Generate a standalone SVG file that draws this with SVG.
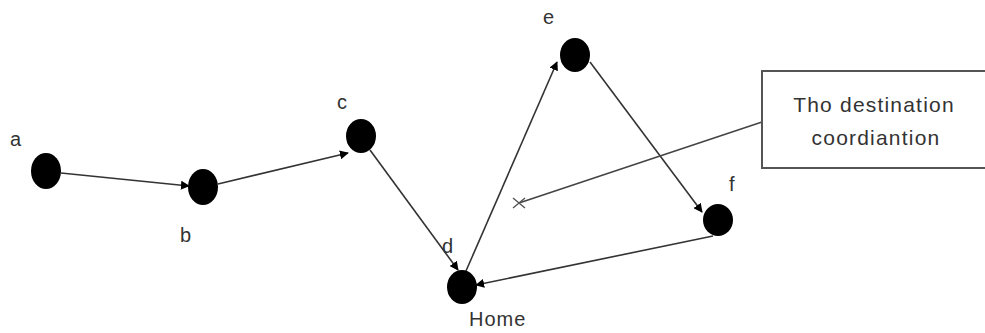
<svg xmlns="http://www.w3.org/2000/svg" width="985" height="333" viewBox="0 0 985 333">
  <style>
    .node { fill: #000; }
    .edge { stroke: #333; stroke-width: 1.6; fill: none; marker-end: url(#arrow); }
    .lbl { font-family: "Liberation Sans", Arial, sans-serif; font-size: 20px; fill: #333; }
    .note { font-family: "Liberation Sans", Arial, sans-serif; font-size: 21px; letter-spacing: 1.2px; fill: #333; text-anchor: middle; }
  </style>
  <defs>
    <marker id="arrow" viewBox="0 0 10 10" refX="9" refY="5" markerWidth="9" markerHeight="9" markerUnits="userSpaceOnUse" orient="auto">
      <path d="M0,0 L10,5 L0,10 z" fill="#000"/>
    </marker>
  </defs>
  <rect width="985" height="333" fill="#fff"/>

  <!-- connectors -->
  <g id="connectors">
    <line class="edge" x1="61" y1="173" x2="189" y2="186"/>
    <line class="edge" x1="218" y1="184" x2="348" y2="153"/>
    <line class="edge" x1="370" y1="150" x2="458" y2="270"/>
    <line class="edge" x1="466" y1="271" x2="557" y2="62"/>
    <line class="edge" x1="590" y1="62" x2="702" y2="212"/>
    <line class="edge" x1="713" y1="236" x2="476" y2="285"/>
    <!-- pointer from the note box to the target mark -->
    <line x1="762" y1="122" x2="519" y2="203" stroke="#444" stroke-width="1.6"/>
    <path d="M513,198 L525,208 M513,208 L525,198" stroke="#555" stroke-width="1.4"/>
  </g>

  <g id="node-a">
    <ellipse class="node" cx="46" cy="171" rx="15" ry="18"/>
    <text class="lbl" x="10" y="146">a</text>
  </g>
  <g id="node-b">
    <ellipse class="node" cx="203" cy="187" rx="15" ry="18"/>
    <text class="lbl" x="180" y="242">b</text>
  </g>
  <g id="node-c">
    <ellipse class="node" cx="361" cy="136" rx="15" ry="17"/>
    <text class="lbl" x="337" y="109">c</text>
  </g>
  <g id="node-d">
    <ellipse class="node" cx="462" cy="287" rx="15" ry="17"/>
    <text class="lbl" x="442" y="253">d</text>
    <text class="lbl" x="469" y="326" letter-spacing="1">Home</text>
  </g>
  <g id="node-e">
    <ellipse class="node" cx="575" cy="55" rx="15" ry="17"/>
    <text class="lbl" x="543" y="24">e</text>
  </g>
  <g id="node-f">
    <ellipse class="node" cx="718" cy="220" rx="15" ry="16"/>
    <text class="lbl" x="729" y="191">f</text>
  </g>

  <g id="note">
    <rect x="762" y="71" width="240" height="97" fill="#fff" stroke="#555" stroke-width="2"/>
    <text class="note" x="874" y="112">Tho destination</text>
    <text class="note" x="876" y="145">coordiantion</text>
  </g>
</svg>
